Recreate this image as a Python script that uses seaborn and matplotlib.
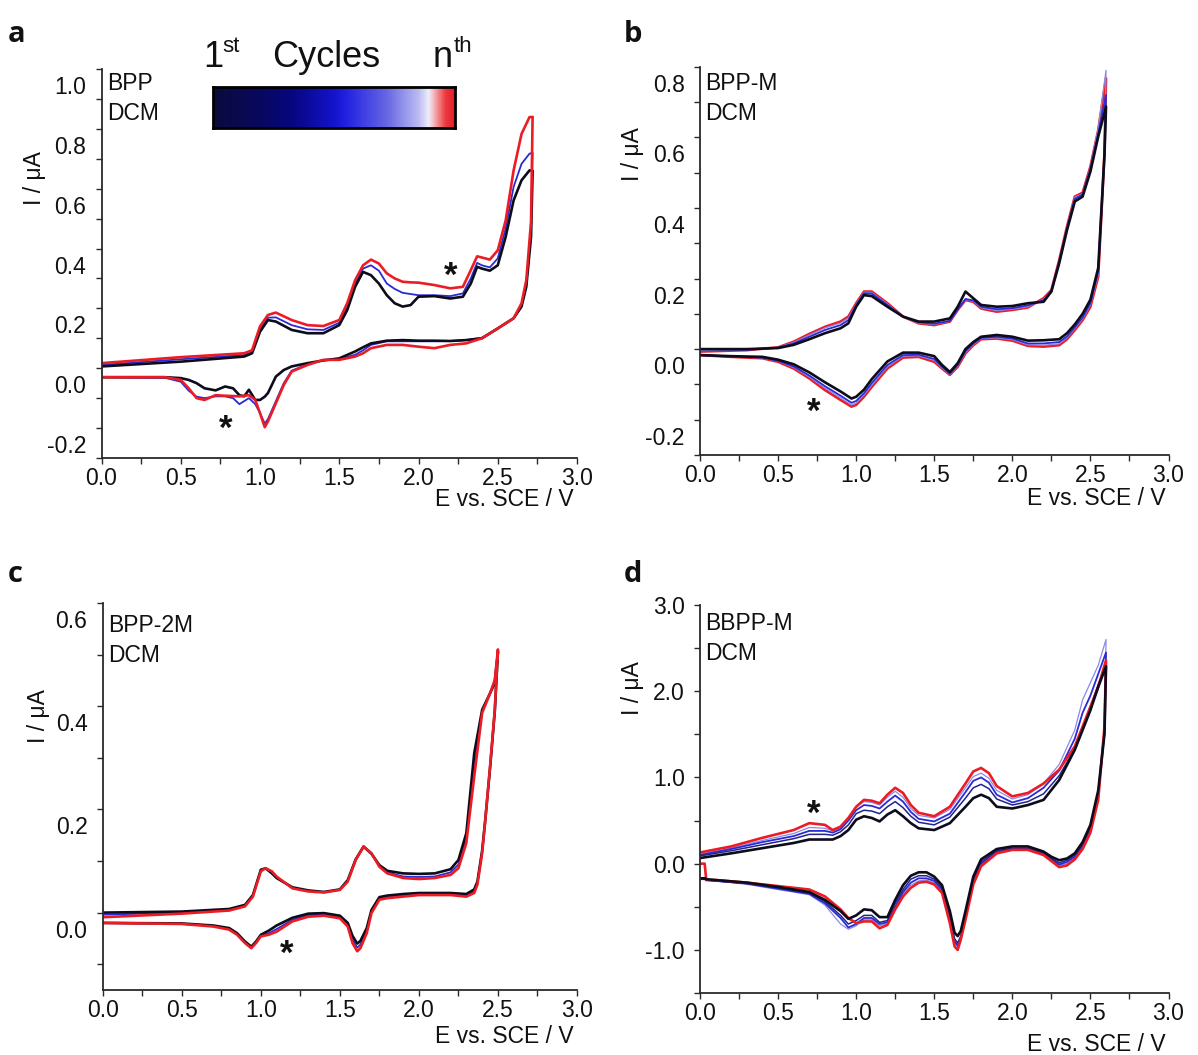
import numpy as np
import pandas as pd
import matplotlib
matplotlib.use("Agg")
import matplotlib.pyplot as plt
import seaborn as sns
from matplotlib.colors import LinearSegmentedColormap
from matplotlib.transforms import ScaledTranslation

# ---------------- data ----------------
# Panel a (BPP)
A_E_FWD = [0, 0.5, 0.9, 0.95, 1.0, 1.05, 1.1, 1.2, 1.3, 1.4, 1.5, 1.55, 1.6, 1.65, 1.7, 1.75, 1.8, 1.85,
           1.9, 1.95, 2.0, 2.1, 2.2, 2.28, 2.33, 2.37, 2.4, 2.45, 2.5, 2.55, 2.6, 2.65, 2.7, 2.72]
A_FWD_RED = [0.017, 0.037, 0.05, 0.06, 0.14, 0.178, 0.186, 0.161, 0.144, 0.141, 0.161, 0.217, 0.294, 0.344,
             0.363, 0.35, 0.317, 0.300, 0.289, 0.287, 0.286, 0.278, 0.267, 0.272, 0.328, 0.374, 0.37, 0.363,
             0.394, 0.494, 0.661, 0.783, 0.839, 0.84]
A_FWD_BLUE = [0.011, 0.03, 0.044, 0.055, 0.133, 0.169, 0.17, 0.144, 0.13, 0.128, 0.152, 0.206, 0.283, 0.333,
              0.344, 0.326, 0.283, 0.265, 0.252, 0.248, 0.244, 0.244, 0.241, 0.25, 0.3, 0.352, 0.344, 0.337,
              0.367, 0.467, 0.606, 0.683, 0.717, 0.72]
A_FWD_BLACK = [0.006, 0.022, 0.039, 0.05, 0.122, 0.161, 0.156, 0.128, 0.117, 0.117, 0.144, 0.194, 0.272, 0.322,
               0.311, 0.283, 0.244, 0.217, 0.206, 0.211, 0.239, 0.241, 0.233, 0.239, 0.283, 0.339, 0.333, 0.326,
               0.344, 0.439, 0.561, 0.628, 0.661, 0.66]
A_E_REV = [2.72, 2.71, 2.68, 2.65, 2.6, 2.5, 2.4, 2.3, 2.2, 2.1, 2.0, 1.9, 1.8, 1.7, 1.65, 1.6, 1.5, 1.4, 1.3,
           1.2, 1.15, 1.1, 1.05, 1.03, 1.0, 0.97, 0.93, 0.9, 0.87, 0.83, 0.78, 0.72, 0.65, 0.6, 0.55, 0.5, 0.4, 0.0]
A_REV_RED = [0.84, 0.49, 0.294, 0.217, 0.167, 0.133, 0.1, 0.083, 0.078, 0.067, 0.072, 0.078, 0.078, 0.067, 0.05,
             0.039, 0.028, 0.028, 0.011, -0.011, -0.056, -0.117, -0.178, -0.197, -0.15, -0.106, -0.09, -0.092,
             -0.094, -0.093, -0.092, -0.09, -0.106, -0.1, -0.067, -0.039, -0.03, -0.03]
A_REV_BLUE = [0.72, 0.45, 0.28, 0.21, 0.167, 0.133, 0.102, 0.094, 0.091, 0.09, 0.09, 0.09, 0.09, 0.078, 0.06,
              0.045, 0.03, 0.028, 0.013, -0.008, -0.05, -0.11, -0.17, -0.185, -0.15, -0.12, -0.1, -0.11, -0.12,
              -0.1, -0.094, -0.094, -0.1, -0.095, -0.075, -0.045, -0.032, -0.03]
A_REV_BLACK = [0.66, 0.439, 0.272, 0.206, 0.167, 0.133, 0.1, 0.094, 0.091, 0.092, 0.092, 0.094, 0.092, 0.083,
               0.07, 0.056, 0.033, 0.026, 0.017, 0.006, -0.006, -0.028, -0.083, -0.095, -0.106, -0.106, -0.072,
               -0.094, -0.09, -0.067, -0.061, -0.074, -0.067, -0.05, -0.039, -0.033, -0.03, -0.03]

# Panel b (BPP-M)
B_E_FWD = [0, 0.3, 0.5, 0.6, 0.7, 0.8, 0.9, 0.95, 1.0, 1.05, 1.1, 1.2, 1.3, 1.4, 1.5, 1.6, 1.65, 1.7, 1.75,
           1.8, 1.9, 2.0, 2.1, 2.2, 2.25, 2.3, 2.35, 2.4, 2.45, 2.5, 2.55, 2.6]
B_FWD_RED = [-0.007, -0.003, 0.005, 0.021, 0.043, 0.063, 0.078, 0.092, 0.13, 0.163, 0.163, 0.13, 0.092, 0.073,
             0.068, 0.078, 0.111, 0.139, 0.134, 0.115, 0.106, 0.111, 0.118, 0.144, 0.167, 0.252, 0.347, 0.432,
             0.443, 0.517, 0.62, 0.767]
B_FWD_LIGHT = [-0.004, -0.002, 0.005, 0.019, 0.04, 0.06, 0.074, 0.088, 0.128, 0.161, 0.16, 0.128, 0.092, 0.074,
               0.07, 0.079, 0.111, 0.14, 0.136, 0.117, 0.109, 0.113, 0.12, 0.141, 0.166, 0.25, 0.345, 0.43,
               0.44, 0.515, 0.625, 0.79]
B_FWD_BLUE = [0.0, -0.002, 0.004, 0.016, 0.035, 0.054, 0.068, 0.082, 0.125, 0.158, 0.157, 0.125, 0.092, 0.076,
              0.072, 0.08, 0.112, 0.142, 0.138, 0.12, 0.113, 0.116, 0.124, 0.138, 0.165, 0.248, 0.342, 0.425,
              0.438, 0.51, 0.61, 0.72]
B_FWD_BLACK = [0.0, 0.0, 0.003, 0.012, 0.028, 0.045, 0.059, 0.073, 0.12, 0.153, 0.15, 0.12, 0.092, 0.078, 0.078,
               0.087, 0.12, 0.163, 0.144, 0.125, 0.12, 0.122, 0.13, 0.134, 0.163, 0.243, 0.337, 0.418, 0.432,
               0.503, 0.602, 0.687]
B_E_REV = [2.6, 2.59, 2.55, 2.5, 2.45, 2.4, 2.35, 2.3, 2.2, 2.1, 2.0, 1.9, 1.8, 1.75, 1.7, 1.65, 1.6, 1.55, 1.5,
           1.4, 1.3, 1.2, 1.1, 1.05, 1.0, 0.97, 0.9, 0.8, 0.7, 0.6, 0.5, 0.4, 0.2, 0.0]
B_REV_RED = [0.767, 0.554, 0.205, 0.12, 0.082, 0.054, 0.028, 0.011, 0.007, 0.009, 0.024, 0.03, 0.028, 0.011,
             -0.012, -0.05, -0.073, -0.055, -0.036, -0.022, -0.024, -0.055, -0.107, -0.135, -0.158, -0.163,
             -0.144, -0.116, -0.083, -0.055, -0.036, -0.026, -0.022, -0.017]
B_REV_LIGHT = [0.79, 0.56, 0.21, 0.125, 0.086, 0.058, 0.032, 0.015, 0.011, 0.012, 0.027, 0.032, 0.03, 0.013,
               -0.01, -0.048, -0.072, -0.053, -0.032, -0.019, -0.02, -0.05, -0.102, -0.13, -0.153, -0.158,
               -0.138, -0.11, -0.079, -0.052, -0.034, -0.025, -0.021, -0.017]
B_REV_BLUE = [0.72, 0.55, 0.22, 0.13, 0.09, 0.062, 0.036, 0.02, 0.016, 0.016, 0.03, 0.035, 0.032, 0.016, -0.006,
              -0.045, -0.07, -0.05, -0.028, -0.016, -0.017, -0.045, -0.096, -0.125, -0.147, -0.152, -0.132,
              -0.105, -0.075, -0.049, -0.033, -0.024, -0.021, -0.017]
B_REV_BLACK = [0.687, 0.55, 0.23, 0.14, 0.1, 0.07, 0.045, 0.028, 0.025, 0.024, 0.035, 0.04, 0.035, 0.02, 0.0,
               -0.04, -0.065, -0.045, -0.02, -0.01, -0.01, -0.035, -0.085, -0.115, -0.135, -0.14, -0.12, -0.094,
               -0.066, -0.043, -0.03, -0.022, -0.02, -0.017]

# Panel c (BPP-2M)
C_E_FWD = [0, 0.5, 0.8, 0.9, 0.95, 1.0, 1.03, 1.07, 1.1, 1.2, 1.3, 1.4, 1.5, 1.55, 1.6, 1.65, 1.7, 1.75, 1.8,
           1.9, 2.0, 2.1, 2.2, 2.25, 2.3, 2.35, 2.4, 2.45, 2.48, 2.5]
C_FWD_RED = [-0.009, -0.002, 0.004, 0.012, 0.031, 0.08, 0.086, 0.08, 0.07, 0.047, 0.041, 0.039, 0.044, 0.06,
             0.102, 0.128, 0.115, 0.089, 0.076, 0.067, 0.065, 0.067, 0.073, 0.086, 0.135, 0.264, 0.387, 0.425,
             0.451, 0.51]
C_FWD_BLUE = [-0.004, 0.0, 0.005, 0.013, 0.032, 0.081, 0.086, 0.078, 0.068, 0.048, 0.042, 0.04, 0.044, 0.061,
              0.102, 0.128, 0.115, 0.09, 0.078, 0.07, 0.069, 0.07, 0.078, 0.093, 0.143, 0.285, 0.39, 0.425, 0.448,
              0.508]
C_FWD_BLACK = [0.0, 0.002, 0.007, 0.015, 0.034, 0.083, 0.086, 0.076, 0.067, 0.049, 0.043, 0.04, 0.045, 0.063,
               0.103, 0.128, 0.114, 0.092, 0.081, 0.076, 0.075, 0.076, 0.084, 0.102, 0.154, 0.309, 0.393, 0.425,
               0.445, 0.506]
C_E_REV = [2.5, 2.48, 2.45, 2.42, 2.4, 2.37, 2.35, 2.3, 2.2, 2.0, 1.9, 1.8, 1.75, 1.7, 1.67, 1.63, 1.61, 1.58,
           1.55, 1.5, 1.4, 1.3, 1.2, 1.1, 1.05, 1.0, 0.97, 0.94, 0.9, 0.85, 0.8, 0.7, 0.5, 0.0]
C_REV_RED = [0.51, 0.393, 0.283, 0.18, 0.115, 0.054, 0.038, 0.031, 0.034, 0.034, 0.031, 0.028, 0.025, -0.001,
             -0.04, -0.069, -0.075, -0.059, -0.027, -0.011, -0.006, -0.008, -0.017, -0.037, -0.043, -0.046,
             -0.059, -0.069, -0.059, -0.043, -0.033, -0.027, -0.022, -0.02]
C_REV_BLUE = [0.508, 0.39, 0.28, 0.18, 0.118, 0.057, 0.041, 0.033, 0.036, 0.036, 0.033, 0.03, 0.027, 0.002,
              -0.035, -0.062, -0.068, -0.052, -0.024, -0.009, -0.004, -0.005, -0.014, -0.032, -0.04, -0.045,
              -0.058, -0.068, -0.058, -0.042, -0.032, -0.026, -0.022, -0.02]
C_REV_BLACK = [0.506, 0.39, 0.28, 0.18, 0.12, 0.06, 0.045, 0.036, 0.038, 0.038, 0.036, 0.033, 0.03, 0.005,
               -0.03, -0.055, -0.06, -0.045, -0.02, -0.006, -0.001, -0.002, -0.01, -0.025, -0.035, -0.043,
               -0.056, -0.066, -0.056, -0.04, -0.03, -0.025, -0.021, -0.02]

# Panel d (BBPP-M)
D_E_FWD = [0, 0.2, 0.4, 0.6, 0.7, 0.8, 0.85, 0.9, 0.95, 1.0, 1.05, 1.1, 1.15, 1.2, 1.25, 1.3, 1.35, 1.4, 1.5,
           1.6, 1.7, 1.75, 1.8, 1.85, 1.9, 2.0, 2.1, 2.2, 2.3, 2.4, 2.45, 2.5, 2.55, 2.6]
D_FWD_RED = [0.13, 0.2, 0.3, 0.39, 0.47, 0.45, 0.39, 0.43, 0.53, 0.66, 0.74, 0.73, 0.70, 0.80, 0.88, 0.82, 0.68,
             0.59, 0.55, 0.66, 0.93, 1.07, 1.11, 1.05, 0.9, 0.78, 0.82, 0.93, 1.09, 1.36, 1.59, 1.82, 2.05, 2.36]
D_FWD_LIGHT = [0.11, 0.18, 0.27, 0.35, 0.42, 0.41, 0.38, 0.42, 0.52, 0.66, 0.72, 0.71, 0.68, 0.77, 0.84, 0.77,
               0.64, 0.56, 0.53, 0.63, 0.88, 1.01, 1.05, 0.99, 0.85, 0.75, 0.8, 0.93, 1.15, 1.55, 1.9, 2.1, 2.3,
               2.6]
D_FWD_BLUE = [0.1, 0.17, 0.25, 0.32, 0.38, 0.38, 0.36, 0.4, 0.5, 0.62, 0.68, 0.67, 0.64, 0.72, 0.79, 0.72, 0.6,
              0.52, 0.49, 0.58, 0.83, 0.96, 1.0, 0.94, 0.8, 0.71, 0.76, 0.88, 1.08, 1.45, 1.75, 1.95, 2.2, 2.45]
D_FWD_NAVY = [0.09, 0.15, 0.22, 0.29, 0.34, 0.34, 0.33, 0.37, 0.45, 0.58, 0.62, 0.61, 0.58, 0.66, 0.72, 0.65,
              0.55, 0.48, 0.45, 0.54, 0.76, 0.88, 0.92, 0.87, 0.75, 0.68, 0.72, 0.81, 1.02, 1.33, 1.57, 1.82,
              2.08, 2.30]
D_FWD_BLACK = [0.065, 0.12, 0.18, 0.24, 0.28, 0.28, 0.28, 0.32, 0.39, 0.51, 0.55, 0.53, 0.49, 0.57, 0.62, 0.55,
               0.47, 0.41, 0.39, 0.47, 0.66, 0.76, 0.80, 0.76, 0.66, 0.64, 0.68, 0.74, 0.97, 1.32, 1.55, 1.78,
               2.05, 2.29]
D_E_REV = [2.6, 2.59, 2.55, 2.5, 2.45, 2.4, 2.35, 2.3, 2.25, 2.2, 2.1, 2.0, 1.9, 1.8, 1.75, 1.7, 1.67, 1.65,
           1.63, 1.6, 1.55, 1.5, 1.45, 1.4, 1.35, 1.3, 1.25, 1.2, 1.15, 1.1, 1.05, 1.0, 0.95, 0.9, 0.8, 0.7, 0.5,
           0.3, 0.1, 0.04, 0.03, 0.0]
D_REV_RED = [2.36, 1.59, 0.74, 0.36, 0.17, 0.05, -0.02, -0.04, 0.03, 0.1, 0.16, 0.16, 0.12, -0.03, -0.24, -0.65,
             -0.88, -1.0, -0.96, -0.69, -0.34, -0.24, -0.21, -0.22, -0.28, -0.38, -0.53, -0.71, -0.75, -0.67,
             -0.67, -0.69, -0.63, -0.53, -0.38, -0.3, -0.26, -0.22, -0.19, -0.19, 0.0, 0.0]
D_REV_LIGHT = [2.6, 1.6, 0.78, 0.38, 0.18, 0.06, 0.0, -0.02, 0.04, 0.1, 0.16, 0.16, 0.13, -0.01, -0.22, -0.63,
               -0.87, -0.97, -0.92, -0.65, -0.32, -0.22, -0.19, -0.2, -0.25, -0.35, -0.52, -0.7, -0.72, -0.65,
               -0.65, -0.72, -0.76, -0.7, -0.48, -0.36, -0.3, -0.24, -0.2, -0.19, -0.18, -0.18]
D_REV_BLUE = [2.45, 1.55, 0.8, 0.4, 0.2, 0.08, 0.02, -0.01, 0.05, 0.11, 0.17, 0.17, 0.14, 0.0, -0.2, -0.62,
              -0.86, -0.95, -0.9, -0.63, -0.3, -0.2, -0.17, -0.17, -0.22, -0.33, -0.5, -0.68, -0.7, -0.63, -0.63,
              -0.7, -0.74, -0.63, -0.46, -0.35, -0.29, -0.23, -0.2, -0.19, -0.18, -0.18]
D_REV_NAVY = [2.3, 1.5, 0.82, 0.42, 0.22, 0.1, 0.04, 0.01, 0.06, 0.12, 0.18, 0.18, 0.15, 0.02, -0.18, -0.6,
              -0.84, -0.92, -0.87, -0.6, -0.28, -0.18, -0.14, -0.14, -0.18, -0.3, -0.46, -0.66, -0.68, -0.6,
              -0.6, -0.66, -0.7, -0.6, -0.44, -0.34, -0.28, -0.23, -0.2, -0.19, -0.18, -0.18]
D_REV_BLACK = [2.29, 1.5, 0.85, 0.45, 0.25, 0.12, 0.06, 0.04, 0.08, 0.14, 0.2, 0.2, 0.17, 0.05, -0.15, -0.55,
               -0.78, -0.84, -0.8, -0.55, -0.25, -0.15, -0.1, -0.1, -0.14, -0.25, -0.42, -0.62, -0.62, -0.54,
               -0.53, -0.6, -0.64, -0.55, -0.42, -0.33, -0.27, -0.22, -0.19, -0.18, -0.17, -0.17]

PANEL_NAMES = ["BPP", "BPP-M", "BPP-2M", "BBPP-M"]
PANEL_LETTERS = ["a", "b", "c", "d"]
STAR_POS = {"a": [(2.20, 0.338), (0.785, -0.174)], "b": [(0.73, -0.153)],
            "c": [(1.166, -0.063)], "d": [(0.73, 0.68)]}

# ---------------- style ----------------
sns.set_style("ticks")
plt.rcParams["font.family"] = ["Liberation Sans", "DejaVu Sans"]
plt.rcParams["axes.unicode_minus"] = False

COL = {"black": "#0c0c1c", "navy": "#23238f", "blue": "#2a2ad6", "light": "#8a8ae8", "red": "#ec1c24"}
LW = {"black": 1.9, "navy": 1.1, "blue": 1.3, "light": 0.9, "red": 1.9}

fig = plt.figure(figsize=(11.98, 10.55), dpi=100)
W, H = 1198.0, 1055.0


def px_axes(l, t, r, b):
    return fig.add_axes([l / W, 1 - b / H, (r - l) / W, (b - t) / H])


def make_df(e_fwd, e_rev, curves):
    rows = []
    for name, (fwd, rev) in curves.items():
        e = list(e_fwd) + list(e_rev)
        i = list(fwd) + list(rev)
        rows.append(pd.DataFrame({"E": e, "I": i, "cycle": name, "k": np.arange(len(e))}))
    return pd.concat(rows, ignore_index=True)


panels = [
    dict(box=(101.5, 69, 577, 458), ylim=(-0.3, 1.0), ymaj=[-0.2, 0.0, 0.2, 0.4, 0.6, 0.8, 1.0],
         ymin=np.arange(-0.3, 1.001, 0.1), yfmt="{:.1f}", yoff=0.16,
         df=make_df(A_E_FWD, A_E_REV, {"blue": (A_FWD_BLUE, A_REV_BLUE),
                                        "black": (A_FWD_BLACK, A_REV_BLACK),
                                        "red": (A_FWD_RED, A_REV_RED)}),
         order=["blue", "black", "red"], ylab=(-0.117, 0.72), xlab=(0.992, -0.077), txt_y=0.992),
    dict(box=(700, 66.7, 1168.5, 455), ylim=(-0.3, 0.8), ymaj=[-0.2, 0.0, 0.2, 0.4, 0.6, 0.8],
         ymin=np.arange(-0.3, 0.801, 0.1), yfmt="{:.1f}", yoff=0.16,
         df=make_df(B_E_FWD, B_E_REV, {"light": (B_FWD_LIGHT, B_REV_LIGHT),
                                        "red": (B_FWD_RED, B_REV_RED),
                                        "blue": (B_FWD_BLUE, B_REV_BLUE),
                                        "black": (B_FWD_BLACK, B_REV_BLACK)}),
         order=["red", "light", "blue", "black"], ylab=(-0.12, 0.775), xlab=(0.993, -0.083), txt_y=0.987),
    dict(box=(102.7, 603, 577, 990), ylim=(-0.15, 0.6), ymaj=[0.0, 0.2, 0.4, 0.6],
         ymin=np.arange(-0.1, 0.601, 0.1), yfmt="{:.1f}", yoff=0.16,
         df=make_df(C_E_FWD, C_E_REV, {"blue": (C_FWD_BLUE, C_REV_BLUE),
                                        "black": (C_FWD_BLACK, C_REV_BLACK),
                                        "red": (C_FWD_RED, C_REV_RED)}),
         order=["blue", "black", "red"], ylab=(-0.111, 0.708), xlab=(0.993, -0.09), txt_y=0.972),
    dict(box=(700, 605, 1168.5, 993), ylim=(-1.5, 3.0), ymaj=[-1.0, 0.0, 1.0, 2.0, 3.0],
         ymin=np.arange(-1.5, 3.001, 0.5), yfmt="{:.1f}", yoff=0.0,
         df=make_df(D_E_FWD, D_E_REV, {"light": (D_FWD_LIGHT, D_REV_LIGHT),
                                        "blue": (D_FWD_BLUE, D_REV_BLUE),
                                        "navy": (D_FWD_NAVY, D_REV_NAVY),
                                        "red": (D_FWD_RED, D_REV_RED),
                                        "black": (D_FWD_BLACK, D_REV_BLACK)}),
         order=["light", "blue", "navy", "red", "black"], ylab=(-0.12, 0.786), xlab=(0.993, -0.104),
         txt_y=0.982),
]

FS = 16.5
axes = []
for p, name, letter in zip(panels, PANEL_NAMES, PANEL_LETTERS):
    ax = px_axes(*p["box"])
    axes.append(ax)
    df = p["df"]
    for cyc in p["order"]:
        sub = df[df["cycle"] == cyc]
        sns.lineplot(data=sub, x="E", y="I", sort=False, estimator=None, color=COL[cyc],
                     linewidth=LW[cyc], ax=ax, legend=False)
    ax.set_xlim(0, 3.0)
    ax.set_ylim(*p["ylim"])
    sns.despine(ax=ax)
    for s in ("left", "bottom"):
        ax.spines[s].set_linewidth(1.3)
        ax.spines[s].set_color("#2a2a2a")
    ax.set_xticks([0, 0.5, 1.0, 1.5, 2.0, 2.5, 3.0])
    ax.set_xticklabels([f"{v:.1f}" for v in [0, 0.5, 1.0, 1.5, 2.0, 2.5, 3.0]])
    ax.set_xticks(np.arange(0, 3.001, 0.25), minor=True)
    ax.set_yticks(p["ymaj"])
    ax.set_yticklabels([p["yfmt"].format(v) for v in p["ymaj"]])
    ax.set_yticks(p["ymin"], minor=True)
    ax.tick_params(which="both", direction="out", length=4, width=1.0, color="#2a2a2a",
                   labelsize=FS, labelcolor="#111111")
    ax.tick_params(axis="x", which="major", pad=2.5)
    ax.tick_params(axis="y", which="major", pad=7)
    ax.set_xlabel("E vs. SCE / V", fontsize=FS, color="#111111", ha="right", va="top")
    ax.xaxis.set_label_coords(p["xlab"][0], p["xlab"][1])
    ax.set_ylabel("I / \u03bcA", fontsize=FS, color="#111111")
    ax.yaxis.set_label_coords(p["ylab"][0], p["ylab"][1])
    ax.text(0.012, p["txt_y"], f"{name}\nDCM", transform=ax.transAxes, ha="left", va="top",
            fontsize=FS, color="#111111", linespacing=1.38)
    star_tr = ax.transData + ScaledTranslation(0, -0.19, fig.dpi_scale_trans)
    for (sx, sy) in STAR_POS[letter]:
        ax.text(sx, sy, "*", transform=star_tr, ha="center", va="baseline", fontsize=25,
                fontweight="bold", color="#111111")
    ax.patch.set_alpha(0)

# panel letters
for letter, (lx, ly) in zip(PANEL_LETTERS, [(8, 42), (624, 42), (8, 582), (624, 582)]):
    fig.text(lx / W, 1 - ly / H, letter, fontsize=21, fontweight="bold",
             family=["Open Sans", "DejaVu Sans"], ha="left", va="baseline", color="#111111")

# cycles colour bar (panel a)
cmap = LinearSegmentedColormap.from_list(
    "cycles",
    [(0.0, "#0b0b3e"), (0.18, "#08085c"), (0.32, "#06067e"), (0.5, "#1414cc"), (0.55, "#2222e2"),
     (0.72, "#6868e4"), (0.85, "#bcbcf2"), (0.89, "#eeeefb"), (0.92, "#f4a0a4"), (0.96, "#ec3a40"),
     (1.0, "#e41c26")])
cax = px_axes(213, 87, 455, 128)
cax.imshow(np.linspace(0, 1, 400)[None, :], aspect="auto", cmap=cmap, extent=(0, 1, 0, 1))
cax.set_xticks([])
cax.set_yticks([])
for s in cax.spines.values():
    s.set_visible(True)
    s.set_linewidth(2.0)
    s.set_color("black")

fig.text(203 / W, 1 - 67 / H, "1", fontsize=26, ha="left", va="baseline", color="#111111")
fig.text(222 / W, 1 - 52 / H, "st", fontsize=16, ha="left", va="baseline", color="#111111")
fig.text(272 / W, 1 - 67 / H, "Cycles", fontsize=26, ha="left", va="baseline", color="#111111")
fig.text(433 / W, 1 - 67 / H, "n", fontsize=26, ha="left", va="baseline", color="#111111")
fig.text(454 / W, 1 - 52 / H, "th", fontsize=16, ha="left", va="baseline", color="#111111")

# shift y tick labels (they sit slightly below their ticks in the original)
fig.canvas.draw()
for ax, p in zip(axes, panels):
    if p["yoff"]:
        off = ScaledTranslation(0, -p["yoff"], fig.dpi_scale_trans)
        for lbl in ax.yaxis.get_majorticklabels():
            lbl.set_transform(lbl.get_transform() + off)

fig.savefig("out.png", dpi=100)
